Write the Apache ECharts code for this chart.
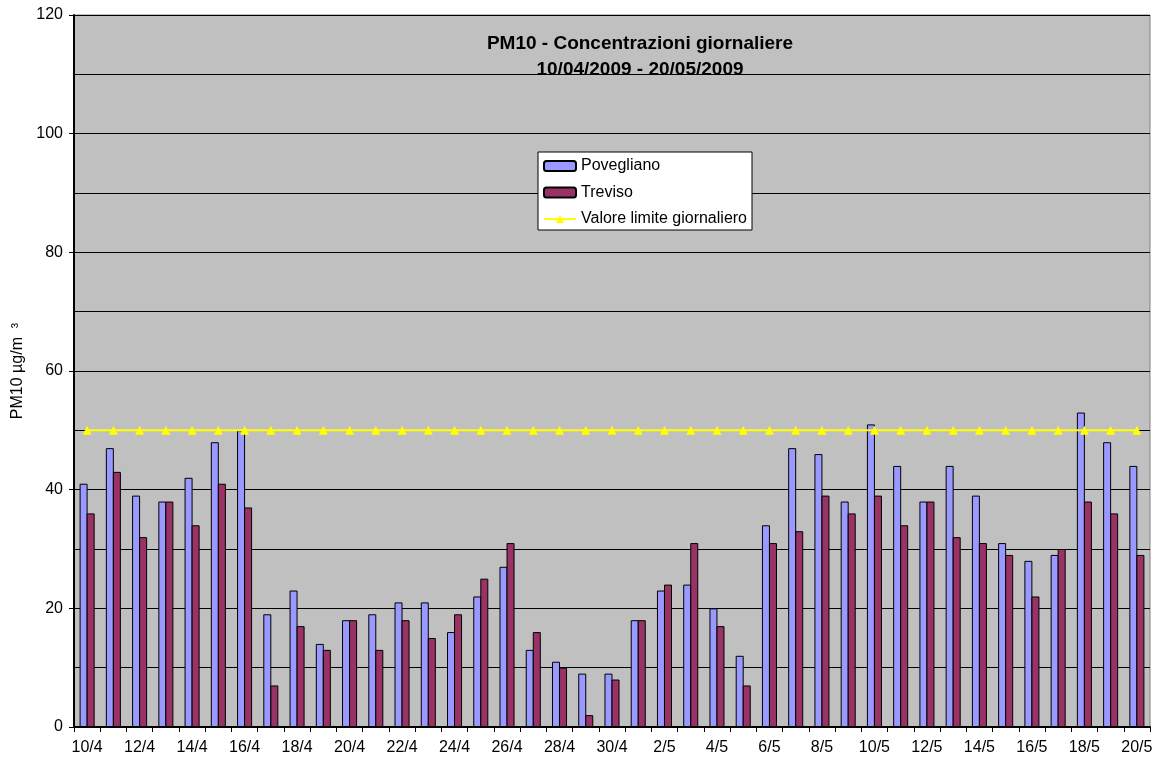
<!DOCTYPE html>
<html>
<head>
<meta charset="utf-8">
<script src="https://cdn.jsdelivr.net/npm/echarts@6/dist/echarts.min.js"></script>
<style>
  html, body { margin: 0; padding: 0; background: #fff; }
  #chart { width: 1159px; height: 757px; }
</style>
</head>
<body>
<div id="chart"></div>
<script>
const days = [
  "10/4", "11/4", "12/4", "13/4", "14/4", "15/4", "16/4", "17/4", "18/4", "19/4",
  "20/4", "21/4", "22/4", "23/4", "24/4", "25/4", "26/4", "27/4", "28/4", "29/4",
  "30/4", "1/5", "2/5", "3/5", "4/5", "5/5", "6/5", "7/5", "8/5", "9/5",
  "10/5", "11/5", "12/5", "13/5", "14/5", "15/5", "16/5", "17/5", "18/5", "19/5", "20/5"
];
const povegliano = [
  41, 47, 39, 38, 42, 48, 50, 19, 23, 14,
  18, 19, 21, 21, 16, 22, 27, 13, 11, 9,
  9, 18, 23, 24, 20, 12, 34, 47, 46, 38,
  51, 44, 38, 44, 39, 31, 28, 29, 53, 48, 44
];
const treviso = [
  36, 43, 32, 38, 34, 41, 37, 7, 17, 13,
  18, 13, 18, 15, 19, 25, 31, 16, 10, 2,
  8, 18, 24, 31, 17, 7, 31, 33, 39, 36,
  39, 34, 38, 32, 31, 29, 22, 30, 38, 36, 29
];
const limite = days.map(() => 50);

const chart = echarts.init(document.getElementById("chart"));
const font = "Liberation Sans, Arial, sans-serif";

chart.setOption({
  backgroundColor: "#ffffff",
  textStyle: { fontFamily: font },
  title: {
    text: "PM10 - Concentrazioni giornaliere\n10/04/2009 - 20/05/2009",
    left: 640,
    top: 31,
    textAlign: "center",
    padding: 0,
    textStyle: { fontSize: 19, fontWeight: "bold", color: "#000", lineHeight: 26, fontFamily: font }
  },
  legend: {
    orient: "vertical",
    left: 538,
    top: 152,
    padding: [6, 5, 3, 5],
    itemGap: 10.5,
    itemWidth: 32,
    itemHeight: 10,
    backgroundColor: "#ffffff",
    borderColor: "#000000",
    borderWidth: 1,
    borderRadius: 0,
    textStyle: { fontSize: 16, color: "#000", lineHeight: 16 },
    data: ["Povegliano", "Treviso", "Valore limite giornaliero"]
  },
  grid: {
    left: 74,
    right: 9,
    top: 15,
    bottom: 30,
    show: true,
    backgroundColor: "#c0c0c0",
    borderColor: "#808080",
    borderWidth: 1
  },
  xAxis: {
    type: "category",
    data: days,
    boundaryGap: true,
    axisLine: { lineStyle: { color: "#000", width: 2 } },
    axisTick: { show: true, interval: 0, length: 5, lineStyle: { color: "#000" } },
    axisLabel: { interval: 1, color: "#000", fontSize: 16, margin: 13 }
  },
  yAxis: {
    type: "value",
    min: 0,
    max: 120,
    interval: 20,
    name: "PM10 µg/m  ³",
    nameLocation: "middle",
    nameGap: 44,
    nameTextStyle: { fontSize: 16, color: "#000" },
    axisLine: { show: true, lineStyle: { color: "#000", width: 2 } },
    axisTick: { show: true, length: 5, lineStyle: { color: "#000" } },
    axisLabel: { color: "#000", fontSize: 16, margin: 11 },
    splitLine: { show: true, lineStyle: { color: "#000", width: 1 } },
    minorTick: { show: false, splitNumber: 2 },
    minorSplitLine: { show: true, lineStyle: { color: "#000", width: 1 } }
  },
  series: [
    {
      name: "Povegliano",
      type: "bar",
      data: povegliano,
      barWidth: 8,
      barGap: "-12%",
      itemStyle: { color: "#9999ff", borderColor: "#000", borderWidth: 1 }
    },
    {
      name: "Treviso",
      type: "bar",
      data: treviso,
      barWidth: 8,
      barGap: "-12%",
      itemStyle: { color: "#993366", borderColor: "#000", borderWidth: 1 }
    },
    {
      name: "Valore limite giornaliero",
      type: "line",
      data: limite,
      symbol: "triangle",
      symbolSize: 9,
      lineStyle: { color: "#ffff00", width: 2 },
      itemStyle: { color: "#ffff00" }
    }
  ]
});
</script>
</body>
</html>
